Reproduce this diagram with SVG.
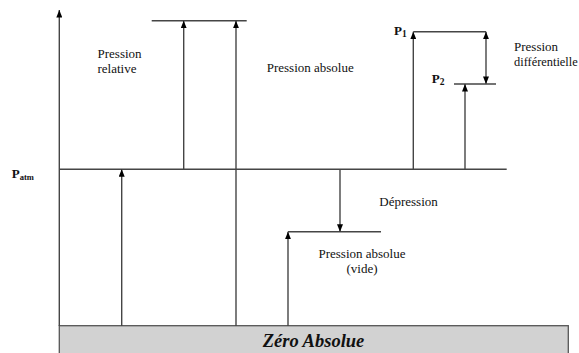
<svg xmlns="http://www.w3.org/2000/svg" width="579" height="353" viewBox="0 0 579 353">
<style>
.ln{stroke:#454545;stroke-width:1.4;fill:none}
.ar{marker-end:url(#ah)}
.t{font-family:'Liberation Serif','Times New Roman','DejaVu Serif',serif;font-size:13px;fill:#111}
.b{font-weight:bold}
.sub{font-size:8.5px}
.sub2{font-size:9.5px}
.z{font-family:'Liberation Serif','Times New Roman','DejaVu Serif',serif;font-size:18.5px;font-weight:bold;font-style:italic;fill:#111}
</style>
<defs>
<marker id="ah" viewBox="0 0 10 8" refX="10" refY="4" markerWidth="8" markerHeight="6" markerUnits="userSpaceOnUse" orient="auto-start-reverse">
<path d="M0,0 L10,4 L0,8 z" fill="#000"/>
</marker>
</defs>
<rect width="579" height="353" fill="#fff"/>
<g id="zero">
<rect x="59.3" y="325.7" width="509" height="40" fill="#d2d2d2" stroke="#555" stroke-width="1.3"/>
<text class="z" x="313.5" y="347" text-anchor="middle">Zéro Absolue</text>
</g>
<g id="connectors">
<line class="ln ar" x1="59.3" y1="326" x2="59.3" y2="10"/>
<line class="ln" x1="59.3" y1="169.3" x2="506.7" y2="169.3"/>
<line class="ln" x1="151.7" y1="20.7" x2="246.7" y2="20.7"/>
<line class="ln ar" x1="183.7" y1="169.3" x2="183.7" y2="20.7"/>
<line class="ln ar" x1="236" y1="326" x2="236" y2="20.7"/>
<line class="ln ar" x1="121.7" y1="326" x2="121.7" y2="169.3"/>
<line class="ln ar" x1="288" y1="326" x2="288" y2="231.7"/>
<line class="ln" x1="288" y1="231.7" x2="381" y2="231.7"/>
<line class="ln ar" x1="340" y1="169.3" x2="340" y2="231.7"/>
<line class="ln ar" x1="413.3" y1="169.3" x2="413.3" y2="31.7"/>
<line class="ln" x1="413.3" y1="31.7" x2="486" y2="31.7"/>
<line class="ln ar" x1="486" y1="31.7" x2="486" y2="84" style="marker-start:url(#ah)"/>
<line class="ln" x1="454" y1="84" x2="496" y2="84"/>
<line class="ln ar" x1="465" y1="169.3" x2="465" y2="84"/>
</g>
<g id="patm"><text class="t b" x="11.7" y="178">P<tspan class="sub" dy="2">atm</tspan></text></g>
<g id="relative"><text class="t" x="97.5" y="58.3">Pression</text><text class="t" x="97.5" y="72.5">relative</text></g>
<g id="absolue"><text class="t" x="266.7" y="72.3">Pression absolue</text></g>
<g id="p1"><text class="t b" x="394" y="34.5">P<tspan class="sub2" dy="2">1</tspan></text></g>
<g id="p2"><text class="t b" x="431.7" y="82.5">P<tspan class="sub2" dy="2">2</tspan></text></g>
<g id="diff"><text class="t" x="514" y="51">Pression</text><text class="t" x="514" y="65.5" style="font-size:12.4px">différentielle</text></g>
<g id="depression"><text class="t" x="379.3" y="206">Dépression</text></g>
<g id="vide"><text class="t" x="362" y="258.3" text-anchor="middle">Pression absolue</text><text class="t" x="362" y="273" text-anchor="middle">(vide)</text></g>
</svg>
